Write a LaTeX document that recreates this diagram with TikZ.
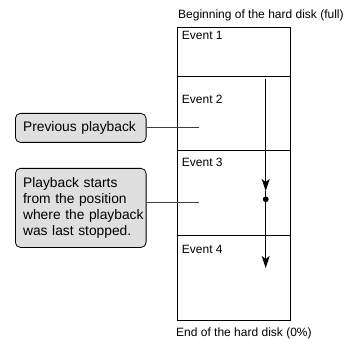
\documentclass[tikz,border=0pt]{standalone}
\usepackage{fontspec}
\setmainfont{Liberation Sans}
\usetikzlibrary{arrows.meta}
\begin{document}
\begin{tikzpicture}[x=1pt,y=-1pt,
  lbl/.style={font=\fontsize{12}{14}\selectfont, inner sep=0pt, anchor=base west},
  callout/.style={draw, line width=0.8pt, rounded corners=5pt, fill=gray!25,
    font=\fontsize{13.8}{15.7}\selectfont, align=left, inner xsep=7.7pt, inner ysep=0pt,
    text width=115.3pt, anchor=north west},
  wall/.style={line width=0.9pt},
  lead/.style={line width=0.7pt, draw=black!75},
  flow/.style={line width=1.3pt, -{Stealth[length=12pt,width=8pt,inset=3pt]}}]
\useasboundingbox (0,0) rectangle (345,339);
% column
\draw[wall] (177.5,27) rectangle (290.5,320.7);
\draw[wall] (177.5,76) -- (290.5,76);
\draw[wall] (177.5,150) -- (290.5,150);
\draw[wall] (177.5,235.7) -- (290.5,235.7);
% labels
\node[lbl] (top) at (178,19) {Beginning of the hard disk (full)};
\node[lbl] (bot) at (176,336.5) {End of the hard disk (0\%)};
\node[lbl] (e1) at (181.7,40) {Event 1};
\node[lbl] (e2) at (181.7,104) {Event 2};
\node[lbl] (e3) at (181.7,166.7) {Event 3};
\node[lbl] (e4) at (181.7,253) {Event 4};
% callouts
\node[callout, minimum height=29pt] (prev) at (15,113) {Previous playback};
\node[callout, minimum height=79pt] (start) at (15,168) {\mbox{Playback starts}\\\mbox{from the position}\\\mbox{where the playback}\\\mbox{was last stopped.}};
\coordinate (p1) at (199,127.7);
\coordinate (p2) at (199,202.7);
\draw[lead] (p1 -| prev.east) -- (p1);
\draw[lead] (p2 -| start.east) -- (p2);
% playback arrow
\coordinate (a0) at (265.7,79);
\coordinate (a1) at (265.7,191);
\coordinate (dot) at (265.7,199.3);
\coordinate (a2) at (265.7,268);
\draw[flow] (a0) -- (a1);
\draw[line width=1.3pt] (a1) -- (dot);
\draw[flow] (dot) -- (a2);
\fill (dot) circle (2.9pt);
\end{tikzpicture}
\end{document}
